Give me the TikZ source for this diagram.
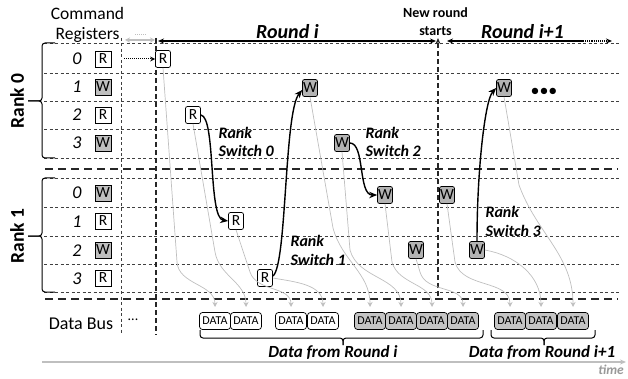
\documentclass[tikz,border=0pt]{standalone}
\usepackage{fontspec}
\setmainfont{Carlito}
\usetikzlibrary{arrows.meta,calc}
\definecolor{wreg}{HTML}{BFBFBF}
\definecolor{wcmd}{HTML}{B3B3B3}
\definecolor{dgrey}{HTML}{C4C4C4}
\definecolor{gline}{HTML}{BFBFBF}
\definecolor{lined}{HTML}{404040}
\begin{document}
\begin{tikzpicture}[x=1pt,y=-1pt,
 thindash/.style={draw=lined, line width=0.8pt, dash pattern=on 3pt off 2.5pt},
 thickdash/.style={draw=black!85, line width=1.6pt, dash pattern=on 8pt off 5pt},
 vdash/.style={draw=black!85, line width=1.3pt, dash pattern=on 5pt off 3pt},
 regbox/.style={draw, line width=0.8pt, minimum width=16pt, minimum height=16pt, inner sep=0pt, font=\fontsize{15.5}{15.5}\selectfont},
 cmdbox/.style={draw, rounded corners=2pt, line width=0.7pt, minimum width=15pt, minimum height=17pt, inner sep=0pt, font=\fontsize{15.5}{15.5}\selectfont},
 rd/.style={fill=white}, wr/.style={fill=wcmd},
 rownum/.style={anchor=base, font=\fontsize{18}{18}\selectfont\itshape},
 swlbl/.style={anchor=base west, font=\fontsize{16}{16}\selectfont\bfseries\itshape},
 garrow/.style={draw=gline, line width=0.7pt, -{Stealth[length=5pt,width=5pt]}},
 sarrow/.style={draw=black, line width=1.4pt, -{Stealth[length=8pt,width=6.5pt]}},
 databox/.style={draw, rounded corners=3pt, line width=0.7pt, minimum width=31pt, minimum height=17pt, inner sep=0pt, font=\fontsize{12}{12}\selectfont},
 bracestyle/.style={draw=black, line width=1pt, rounded corners=3pt},
]
\useasboundingbox (0,0) rectangle (628,379);

% horizontal grid lines
\foreach \yy in {43,73,101,129,158,178,207,236,264,292}
  \draw[thindash] (44,\yy) -- (620,\yy);
\foreach \yy in {169,299}
  \draw[thickdash] (45,\yy) -- (618,\yy);

% vertical lines
\draw[thindash] (121,38) -- (121,333);
\draw[vdash] (156,38) -- (156,335);
\coordinate (nrb) at (438,296);
\coordinate (nrt) at (438,38);
\draw[vdash, -{Stealth[length=6pt,width=5pt]}] (nrb) -- (nrt);

% left braces and rank labels
\draw[bracestyle] (55,43) -- (42,43) -- (42,101) -- (28,101);
\draw[bracestyle] (28,101) -- (42,101) -- (42,158) -- (55,158);
\draw[bracestyle] (55,178) -- (42,178) -- (42,236) -- (28,236);
\draw[bracestyle] (28,236) -- (42,236) -- (42,292) -- (55,292);
\node[rotate=90, font=\fontsize{19.5}{19.5}\selectfont\bfseries] (rank0) at (17,101) {Rank 0};
\node[rotate=90, font=\fontsize{19.5}{19.5}\selectfont\bfseries] (rank1) at (17,236) {Rank 1};

% header texts
\node[anchor=base, font=\fontsize{17.5}{17.5}\selectfont] (cmdA) at (87.5,19.5) {Command};
\node[anchor=base, font=\fontsize{17.5}{17.5}\selectfont] (cmdB) at (87.5,40) {Registers};
\node[anchor=base, font=\fontsize{20}{20}\selectfont\bfseries\itshape] (rti) at (287.5,38.5) {Round i};
\node[anchor=base, font=\fontsize{20}{20}\selectfont\bfseries\itshape] (rtj) at (522.5,38.5) {Round i+1};
\node[anchor=base, font=\fontsize{14}{14}\selectfont\bfseries] (nrA) at (435.5,18) {New round};
\node[anchor=base, font=\fontsize{14}{14}\selectfont\bfseries] (nrB) at (435.5,36) {starts};

% top arrows
\coordinate (ra) at (158,41);
\coordinate (rb) at (436,41);
\coordinate (rc) at (447,41);
\coordinate (rd0) at (583,41);
\coordinate (re) at (612,41);
\draw[line width=1.1pt, {Stealth[length=6pt,width=5pt]}-{Stealth[length=6pt,width=5pt]}] (ra) -- (rb);
\draw[line width=1.1pt, {Stealth[length=6pt,width=5pt]}-] (rc) -- (rd0);
\draw[line width=1.1pt, densely dotted, -{Stealth[length=6pt,width=5pt]}] (rd0) -- (re);
\coordinate (ga) at (125,40);
\coordinate (gb) at (155,40);
\draw[draw=gline, line width=1.2pt, {Stealth[length=5pt,width=5pt]}-{Stealth[length=5pt,width=5pt]}] (ga) -- (gb);
\draw[draw=gline, line width=1pt, densely dotted] (135,35) -- (146,35);

% register column
\foreach \yy/\n/\t/\f in {59/0/R/white, 87/1/W/wreg, 115/2/R/white, 143/3/W/wreg, 193/0/W/wreg, 221/1/R/white, 250/2/W/wreg, 278/3/R/white}{
  \node[rownum] (num\yy) at (77,\yy+6) {\n};
  \node[regbox, fill=\f] (reg\yy) at (103,\yy) {\t};
}

% command nodes on the timeline
\node[cmdbox,rd] (cA) at (163,59) {R};
\node[cmdbox,rd] (cB) at (193,115) {R};
\node[cmdbox,wr] (cC) at (310,88) {W};
\node[cmdbox,wr] (cD) at (342,143) {W};
\node[cmdbox,rd] (cE) at (236,221) {R};
\node[cmdbox,rd] (cF) at (265,278) {R};
\node[cmdbox,wr] (cG) at (385,195) {W};
\node[cmdbox,wr] (cH) at (416,250) {W};
\node[cmdbox,wr] (cI) at (447,195) {W};
\node[cmdbox,wr] (cJ) at (477,250) {W};
\node[cmdbox,wr] (cK) at (504,88) {W};
\node[anchor=base, font=\fontsize{18}{18}\selectfont] (more) at (544,97) {•••};

\coordinate (rsrc) at (124,59);
\draw[densely dotted, line width=1pt, -{Stealth[length=5pt,width=5pt]}] (rsrc) -- (cA.west);

% data bus tips
\foreach \k/\xx in {1/215,2/246,3/291,4/323,5/370,6/401,7/432,8/463,9/510,10/541,11/573}
  \coordinate (t\k) at (\xx,307);

% grey data arrows
\draw[garrow] (cA.south) -- (177,262) to[out=-86,in=90] (t1);
\draw[garrow] (cB.south) -- (215,252) to[out=-80,in=90] (t2);
\draw[garrow] (cE.south) -- (250,272) to[out=-72,in=90] (t3);
\draw[garrow] (cF.east) to[out=-10,in=90] (t4);
\draw[garrow] (cC.south) -- (333,228) to[out=-75,in=90] (t5);
\draw[garrow] (cD.south) -- (350,250) to[out=-75,in=90] (t6);
\draw[garrow] (cG.south) -- (392,262) to[out=-75,in=90] (t7);
\draw[garrow] (cH.south) -- (420,272) to[out=-75,in=90] (t8);
\draw[garrow] (cI.south) -- (455,262) to[out=-75,in=90] (t9);
\draw[garrow] (cJ.east) to[out=-10,in=90] (t10);
\draw[garrow] (cK.south) -- (519,185) to[out=-70,in=90] (t11);

% rank switch arrows
\draw[sarrow] (cB.east) .. controls (216,117) and (208,218) .. (cE.west);
\draw[sarrow] ([yshift=2pt]cF.east) .. controls (287,266) and (284,112) .. ([yshift=-2pt]cC.west);
\draw[sarrow] (cD.east) .. controls (365,143) and (358,195) .. (cG.west);
\draw[sarrow] (cJ.north) .. controls (477,170) and (485,100) .. (cK.west);

% rank switch labels
\node[swlbl] (s0a) at (215,139) {Rank};
\node[swlbl] (s0b) at (215,157) {Switch 0};
\node[swlbl] (s1a) at (287,246) {Rank};
\node[swlbl] (s1b) at (287,265) {Switch 1};
\node[swlbl] (s2a) at (362,139) {Rank};
\node[swlbl] (s2b) at (362,157) {Switch 2};
\node[swlbl] (s3a) at (482,217) {Rank};
\node[swlbl] (s3b) at (482,236) {Switch 3};

% data bus
\node[anchor=base, font=\fontsize{18}{18}\selectfont] (dbus) at (81,329) {Data Bus};
\node[anchor=base, font=\fontsize{14}{14}\selectfont] (dbdots) at (133,320) {...};
\foreach \k/\xx/\f in {1/215/white,2/246/white,3/291/white,4/323/white,5/370/dgrey,6/401/dgrey,7/432/dgrey,8/463/dgrey,9/510/dgrey,10/541/dgrey,11/573/dgrey}
  \node[databox, fill=\f] (d\k) at (\xx,321) {DATA};

% data braces
\draw[bracestyle] (200,330) -- (200,338) -- (343,338) -- (343,345);
\draw[bracestyle] (343,345) -- (343,338) -- (483,338) -- (483,330);
\draw[bracestyle] (491,330) -- (491,338) -- (544,338) -- (544,345);
\draw[bracestyle] (544,345) -- (544,338) -- (595,338) -- (595,330);
\node[anchor=base, font=\fontsize{17}{17}\selectfont\bfseries\itshape] (dfa) at (333,357) {Data from Round i};
\node[anchor=base, font=\fontsize{17}{17}\selectfont\bfseries\itshape] (dfb) at (542,357) {Data from Round i+1};

% time axis
\coordinate (ta) at (42,362);
\coordinate (tb) at (626,362);
\draw[draw=gline, line width=1.2pt, -{Stealth[length=6pt,width=5pt]}] (ta) -- (tb);
\node[anchor=base east, inner sep=1pt, text=gline!80!black, font=\fontsize{13.5}{13.5}\selectfont\bfseries\itshape] (time) at (625,374) {time};
\end{tikzpicture}
\end{document}
